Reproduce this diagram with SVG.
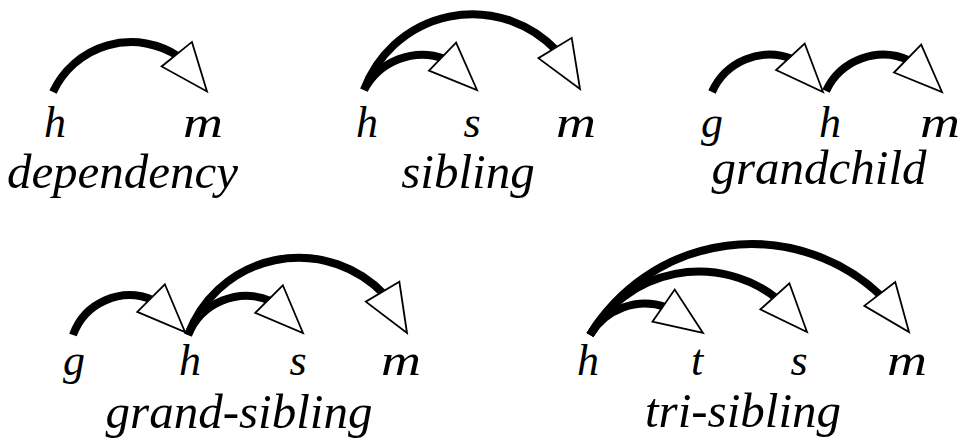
<svg xmlns="http://www.w3.org/2000/svg" xmlns:xlink="http://www.w3.org/1999/xlink" width="962" height="447" viewBox="0 0 962 447">
  <style>
    .arc { fill: none; stroke: #000; stroke-width: 8; stroke-linecap: butt; }
    .head { fill: #fff; stroke: #000; stroke-width: 1.8; stroke-linejoin: miter; }
    .lbl { font-family: "Liberation Serif", "Times New Roman", serif; font-style: italic; font-size: 44px; fill: #000; text-anchor: middle; }
    .cap { font-family: "Liberation Serif", "Times New Roman", serif; font-style: italic; font-size: 49px; fill: #000; text-anchor: middle; }
  </style>
  <defs>
    <polygon id="tri" class="head" points="0,0 -48,-19.5 -48,19.5"/>
  </defs>

  <g id="connectors">
    <g id="e-dep-h-m">
      <path class="arc" d="M53,92 A86,86 0 0 1 178.7,56.5"/>
      <use xlink:href="#tri" href="#tri" transform="translate(207,91.5) rotate(51)"/>
    </g>
    <g id="e-sib-h-s">
      <path class="arc" d="M364,90 A66,66 0 0 1 444.7,58.7"/>
      <use xlink:href="#tri" href="#tri" transform="translate(477,90) rotate(44.1)"/>
    </g>
    <g id="e-sib-h-m">
      <path class="arc" d="M364,90 A115.5,115.5 0 0 1 556.6,50.6"/>
      <use xlink:href="#tri" href="#tri" transform="translate(580,89) rotate(58.7)"/>
    </g>
    <g id="e-gc-g-h">
      <path class="arc" d="M712,92 A63,63 0 0 1 792.4,59"/>
      <use xlink:href="#tri" href="#tri" transform="translate(823,92) rotate(47.2)"/>
    </g>
    <g id="e-gc-h-m">
      <path class="arc" d="M826,91 A63,63 0 0 1 909.7,60.6"/>
      <use xlink:href="#tri" href="#tri" transform="translate(942,92) rotate(44.2)"/>
    </g>
    <g id="e-gs-g-h">
      <path class="arc" d="M73,335 A60,60 0 0 1 153.2,300.2"/>
      <use xlink:href="#tri" href="#tri" transform="translate(185,332) rotate(45)"/>
    </g>
    <g id="e-gs-h-s">
      <path class="arc" d="M188,335 A62.5,62.5 0 0 1 271.2,301.2"/>
      <use xlink:href="#tri" href="#tri" transform="translate(303,333) rotate(45)"/>
    </g>
    <g id="e-gs-h-m">
      <path class="arc" d="M188,335 A118,118 0 0 1 384.1,294.3"/>
      <use xlink:href="#tri" href="#tri" transform="translate(407,333) rotate(59.4)"/>
    </g>
    <g id="e-tri-h-t">
      <path class="arc" d="M590,335 A64,64 0 0 1 666.1,307.3"/>
      <use xlink:href="#tri" href="#tri" transform="translate(703,333) rotate(34.8)"/>
    </g>
    <g id="e-tri-h-s">
      <path class="arc" d="M590,335 A125.5,125.5 0 0 1 776.9,298.6"/>
      <use xlink:href="#tri" href="#tri" transform="translate(807,332) rotate(48)"/>
    </g>
    <g id="e-tri-h-m">
      <path class="arc" d="M590,335 A188.5,188.5 0 0 1 881.6,296.3"/>
      <use xlink:href="#tri" href="#tri" transform="translate(909,332) rotate(52.5)"/>
    </g>
  </g>

  <g id="dependency">
    <g id="dep-h"><text class="lbl" x="55" y="137">h</text></g>
    <g id="dep-m"><text class="lbl" x="203" y="137" textLength="40" lengthAdjust="spacingAndGlyphs">m</text></g>
    <g id="dep-caption"><text class="cap" x="122.5" y="188">dependency</text></g>
  </g>
  <g id="sibling">
    <g id="sib-h"><text class="lbl" x="367" y="137">h</text></g>
    <g id="sib-s"><text class="lbl" x="472" y="137">s</text></g>
    <g id="sib-m"><text class="lbl" x="576" y="137" textLength="40" lengthAdjust="spacingAndGlyphs">m</text></g>
    <g id="sib-caption"><text class="cap" x="468" y="188">sibling</text></g>
  </g>
  <g id="grandchild">
    <g id="gc-g"><text class="lbl" x="712" y="137">g</text></g>
    <g id="gc-h"><text class="lbl" x="830" y="137">h</text></g>
    <g id="gc-m"><text class="lbl" x="940" y="137" textLength="40" lengthAdjust="spacingAndGlyphs">m</text></g>
    <g id="gc-caption"><text class="cap" x="819" y="184">grandchild</text></g>
  </g>
  <g id="grand-sibling">
    <g id="gs-g"><text class="lbl" x="74" y="375">g</text></g>
    <g id="gs-h"><text class="lbl" x="190" y="375">h</text></g>
    <g id="gs-s"><text class="lbl" x="298" y="375">s</text></g>
    <g id="gs-m"><text class="lbl" x="401" y="375" textLength="40" lengthAdjust="spacingAndGlyphs">m</text></g>
    <g id="gs-caption"><text class="cap" x="239" y="428">grand-sibling</text></g>
  </g>
  <g id="tri-sibling">
    <g id="ts-h"><text class="lbl" x="588" y="375">h</text></g>
    <g id="ts-t"><text class="lbl" x="697" y="375">t</text></g>
    <g id="ts-s"><text class="lbl" x="799" y="375">s</text></g>
    <g id="ts-m"><text class="lbl" x="907" y="375" textLength="40" lengthAdjust="spacingAndGlyphs">m</text></g>
    <g id="ts-caption"><text class="cap" x="743" y="427">tri-sibling</text></g>
  </g>
</svg>
